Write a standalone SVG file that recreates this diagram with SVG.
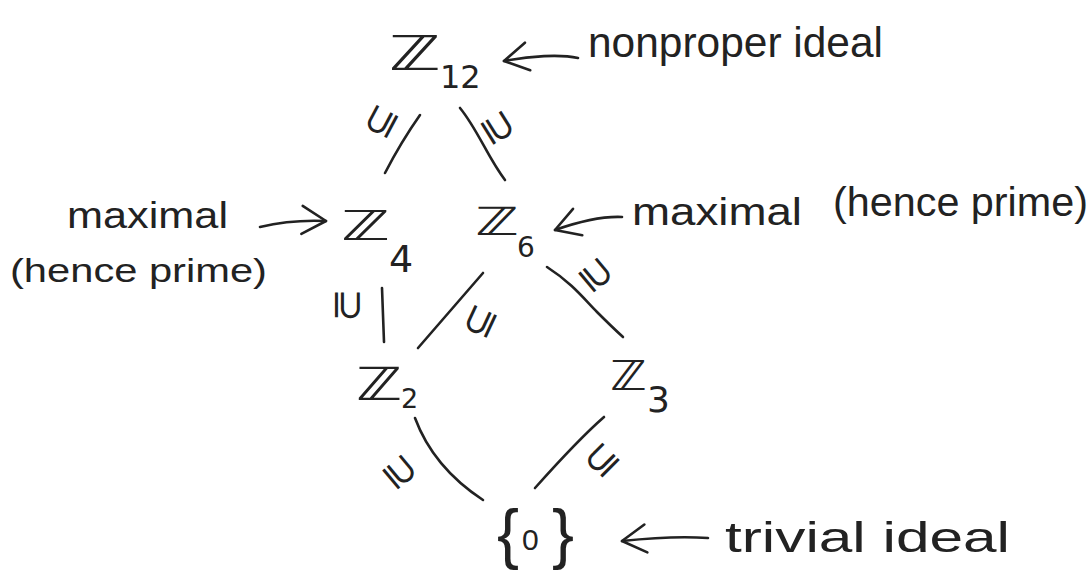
<svg xmlns="http://www.w3.org/2000/svg" width="1090" height="571" viewBox="0 0 1090 571">
  <defs>
    <style>
      .hand { font-family: "Liberation Sans", "DejaVu Sans", sans-serif; fill: #222; }
      .math { font-family: "DejaVu Sans", "Liberation Sans", sans-serif; fill: #222; }
      .rel { font-family: "DejaVu Sans", sans-serif; fill: #222; font-size: 40px; text-anchor: middle; dominant-baseline: central; }
      .edge { fill: none; stroke: #222; stroke-width: 2.6; stroke-linecap: round; stroke-linejoin: round; }
      .note { fill: none; stroke: #222; stroke-width: 2.6; stroke-linecap: round; stroke-linejoin: round; marker-end: url(#ah); }
    </style>
    <marker id="ah" viewBox="-28 -17 32 34" refX="0" refY="0" markerWidth="32" markerHeight="34" markerUnits="userSpaceOnUse" orient="auto">
      <path d="M-24,-14 L0,0 L-24,14" fill="none" stroke="#222" stroke-width="2.6" stroke-linecap="round" stroke-linejoin="round"/>
    </marker>
  </defs>
  <rect width="1090" height="571" fill="#ffffff"/>

  <!-- Nodes -->
  <g id="n-z12">
    <text class="math" font-size="48" transform="translate(389,70) scale(1.45,1)">ℤ</text>
    <text class="math" font-size="32" x="440" y="88">12</text>
  </g>
  <g id="n-z4">
    <text class="math" font-size="41" transform="translate(341,240) scale(1.6,1)">ℤ</text>
    <text class="math" font-size="38" x="389" y="272">4</text>
  </g>
  <g id="n-z6">
    <text class="math" font-size="39" transform="translate(475,235) scale(1.5,1)">ℤ</text>
    <text class="math" font-size="28" x="517" y="257">6</text>
  </g>
  <g id="n-z2">
    <text class="math" font-size="46" transform="translate(356,400) scale(1.35,1)">ℤ</text>
    <text class="math" font-size="27" x="401" y="408">2</text>
  </g>
  <g id="n-z3">
    <text class="math" font-size="41" transform="translate(610,390) scale(1.2,1)">ℤ</text>
    <text class="math" font-size="36" x="647" y="412">3</text>
  </g>
  <g id="n-zero">
    <text class="hand" y="556"><tspan x="497" font-size="66">{</tspan><tspan x="522" y="550" font-size="30">0</tspan><tspan x="552" y="556" font-size="66">}</tspan></text>
  </g>

  <!-- Connectors (inclusion lines with rotated ⊆ labels) -->
  <g id="connectors">
    <path class="edge" d="M420,115 Q401,142 385,173"/>
    <path class="edge" d="M460,108 C478,130 488,158 505,180"/>
    <path class="edge" d="M382,288 L384,342"/>
    <path class="edge" d="M483,273 L418,348"/>
    <path class="edge" d="M547,267 C572,283 585,300 597,312 S612,327 623,337"/>
    <path class="edge" d="M415,418 C425,445 445,475 483,500"/>
    <path class="edge" d="M604,417 C580,438 560,460 535,488"/>
    <text class="rel" transform="translate(380,121) rotate(-62)">⊆</text>
    <text class="rel" transform="translate(499,127) rotate(58)">⊇</text>
    <text class="rel" transform="translate(349,305) rotate(90)">⊇</text>
    <text class="rel" transform="translate(479,321) rotate(-65)">⊆</text>
    <text class="rel" transform="translate(597,274) rotate(50)">⊇</text>
    <text class="rel" transform="translate(401,471) rotate(50)">⊇</text>
    <text class="rel" transform="translate(601,459) rotate(-45)">⊆</text>
  </g>

  <!-- Annotations -->
  <g id="ann-nonproper">
    <path class="note" d="M578,58 C560,54 530,56 504,61"/>
    <text class="hand" font-size="42" x="588" y="57" textLength="295" lengthAdjust="spacingAndGlyphs">nonproper ideal</text>
  </g>
  <g id="ann-z4">
    <text class="hand" font-size="36" x="67" y="228" textLength="161" lengthAdjust="spacingAndGlyphs">maximal</text>
    <text class="hand" font-size="34" x="10" y="282" textLength="257" lengthAdjust="spacingAndGlyphs">(hence prime)</text>
    <path class="note" d="M260,227 C285,221 305,220 326,221"/>
  </g>
  <g id="ann-z6">
    <path class="note" d="M622,217 C600,216 575,223 555,230"/>
    <text class="hand" font-size="38" x="632" y="225" textLength="170" lengthAdjust="spacingAndGlyphs">maximal</text>
    <text class="hand" font-size="40" x="833" y="216" textLength="255" lengthAdjust="spacingAndGlyphs">(hence prime)</text>
  </g>
  <g id="ann-trivial">
    <path class="note" d="M708,538 C680,536 650,538 622,541"/>
    <text class="hand" font-size="42" x="725" y="552" textLength="285" lengthAdjust="spacingAndGlyphs">trivial ideal</text>
  </g>
</svg>
